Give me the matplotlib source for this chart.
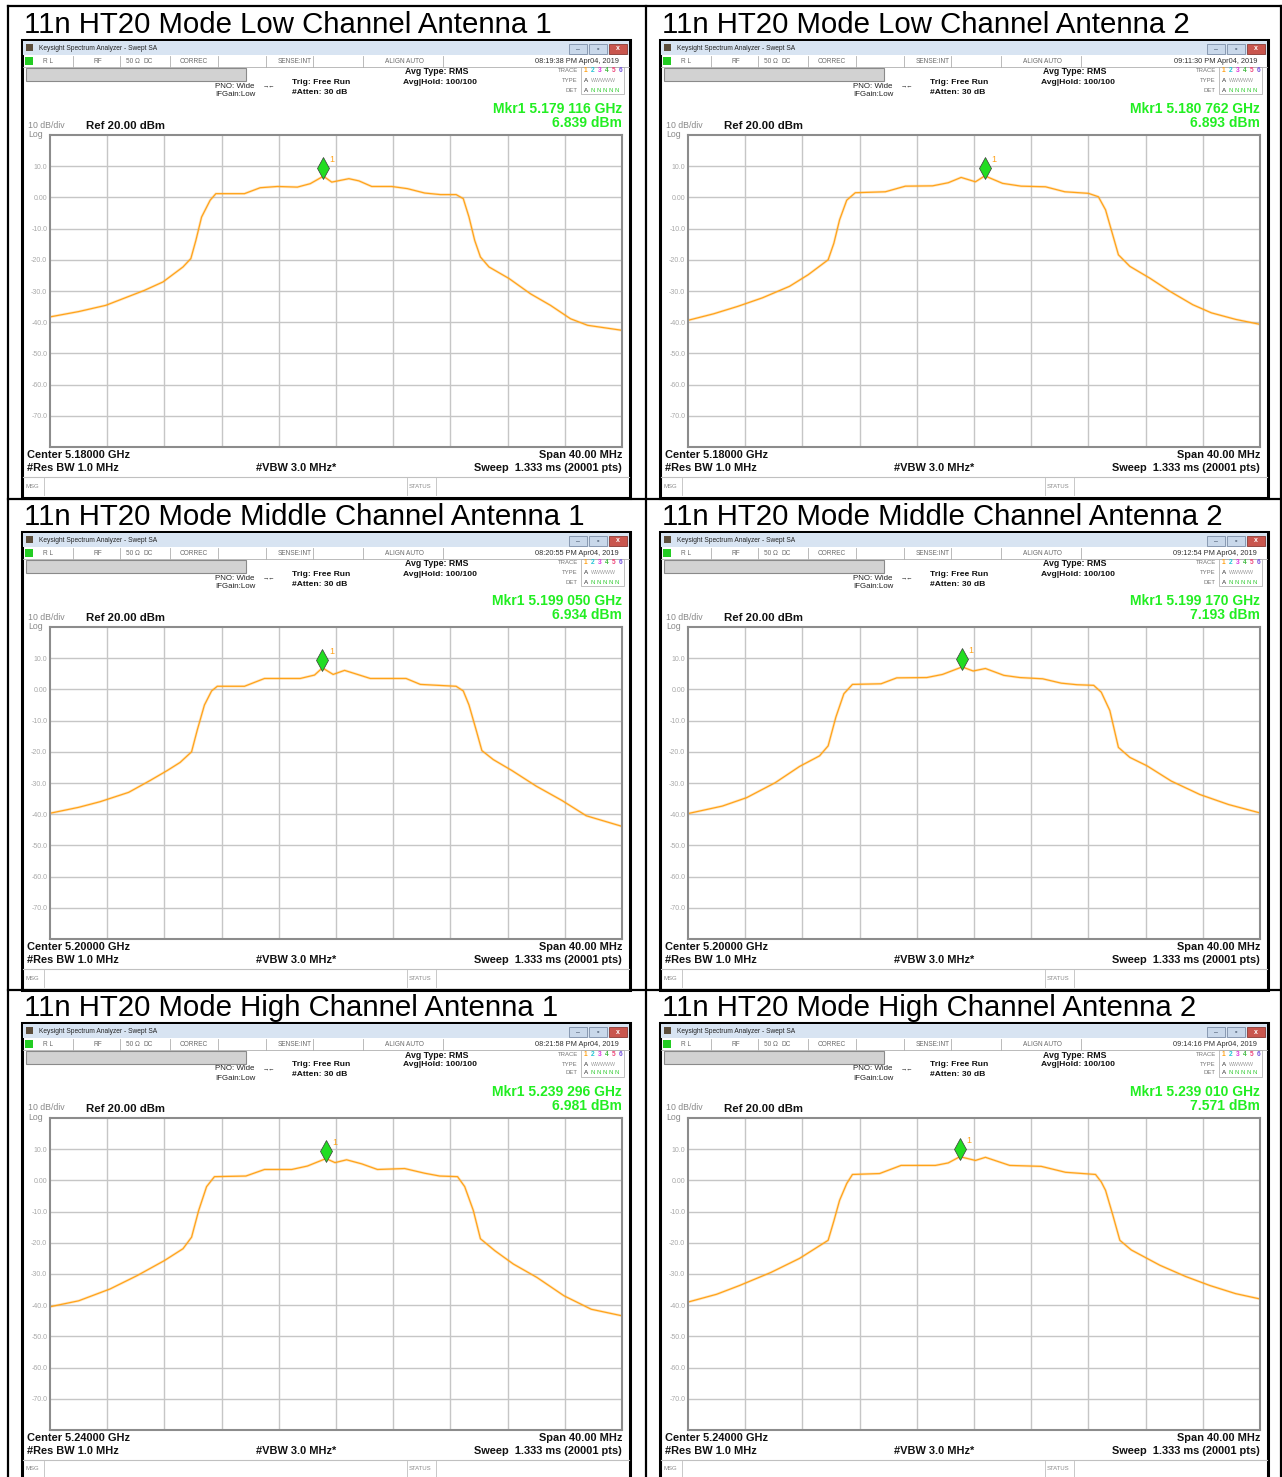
import matplotlib.pyplot as plt
from matplotlib.patches import Rectangle

plt.rcParams['font.family'] = ['Liberation Sans', 'DejaVu Sans']

W, H = 1282, 1477

# ----------------------------------------------------
# panel texts / analyzer readouts
# ----------------------------------------------------
panel_titles = [
    "11n HT20 Mode Low Channel Antenna 1", "11n HT20 Mode Low Channel Antenna 2",
    "11n HT20 Mode Middle Channel Antenna 1", "11n HT20 Mode Middle Channel Antenna 2",
    "11n HT20 Mode High Channel Antenna 1", "11n HT20 Mode High Channel Antenna 2",
]
center_ghz = [5.18, 5.18, 5.20, 5.20, 5.24, 5.24]
mkr_ghz = [5.179116, 5.180762, 5.199050, 5.199170, 5.239296, 5.239010]
mkr_dbm = [6.839, 6.893, 6.934, 7.193, 6.981, 7.571]
timestamps = ["08:19:38 PM Apr04, 2019", "09:11:30 PM Apr04, 2019",
              "08:20:55 PM Apr04, 2019", "09:12:54 PM Apr04, 2019",
              "08:21:58 PM Apr04, 2019", "09:14:16 PM Apr04, 2019"]
grid_db = [10, 0, -10, -20, -30, -40, -50, -60, -70]
grid_db_labels = ["10.0", "0.00", "-10.0", "-20.0", "-30.0", "-40.0", "-50.0", "-60.0", "-70.0"]

# ----------------------------------------------------
# traces (offset from center in MHz, level in dBm)
# ----------------------------------------------------
low_ant1_mhz = [-20, -18, -16.1, -13.4, -12.1, -10.7, -10.15, -9.8, -9.4, -8.8, -8.4, -6.4, -5.3, -4.1,
                -2.7, -1.8, -0.88, -0.3, 0.9, 1.6, 2.5, 3.9, 5.0, 6.2, 7.3, 8.4, 8.9, 9.3, 9.7, 10.1,
                10.7, 12.1, 13.6, 15.0, 16.4, 17.6, 20]
low_ant1_dbm = [-38.3, -36.6, -34.6, -29.8, -27.1, -22.3, -19.6, -13.8, -6.3, -0.9, 1.2, 1.2, 3.1, 3.5,
                3.3, 4.4, 6.8, 4.9, 6.0, 5.3, 3.5, 3.5, 2.8, 1.4, 0.9, 0.9, -0.4, -6.3, -13.8, -19.1,
                -22.3, -26.0, -30.9, -34.6, -38.9, -41.0, -42.6]

low_ant2_mhz = [-20, -18.2, -16.5, -14.8, -12.9, -11.6, -10.2, -9.8, -9.4, -8.9, -8.3, -6.2, -4.8, -2.9,
                -1.8, -0.9, 0.1, 0.76, 2.0, 3.3, 5.0, 6.35, 8.0, 8.7, 9.2, 9.8, 10.1, 10.9, 12.3, 13.7,
                15.3, 16.6, 18.3, 20]
low_ant2_dbm = [-39.4, -37.3, -34.9, -32.2, -28.5, -24.8, -20.0, -14.7, -7.2, -0.9, 1.5, 1.8, 3.6, 3.7,
                4.7, 6.4, 5.0, 6.9, 4.5, 3.6, 3.4, 1.8, 1.3, 0.2, -4.0, -13.6, -18.4, -22.1, -25.9, -30.1,
                -34.4, -37.0, -39.1, -40.7]

mid_ant1_mhz = [-20, -18, -16.5, -14.5, -13.0, -11.8, -10.9, -10.1, -9.7, -9.2, -8.7, -8.3, -6.4, -5.0,
                -2.5, -1.5, -0.95, -0.2, 0.6, 1.5, 2.4, 4.9, 5.9, 8.4, 8.9, 9.3, 9.8, 10.2, 11.0, 12.3,
                14.0, 15.8, 17.5, 20]
mid_ant1_dbm = [-39.7, -37.8, -36.0, -33.0, -29.2, -26.0, -23.4, -20.0, -13.0, -5.0, -0.5, 1.0, 1.0, 3.5,
                3.5, 4.6, 6.9, 4.8, 6.1, 4.8, 3.5, 3.5, 1.6, 1.0, -0.5, -5.0, -13.0, -19.6, -22.5, -26.0,
                -31.0, -35.6, -40.5, -43.9]

mid_ant2_mhz = [-20, -17.6, -15.9, -13.9, -12.2, -10.8, -10.2, -9.66, -9.1, -8.5, -6.5, -5.4, -3.3, -2.2,
                -0.83, -0.06, 0.8, 2.09, 3.2, 4.8, 6.1, 7.2, 8.37, 8.9, 9.5, 10.1, 10.9, 12.1, 13.8, 15.8,
                17.8, 20]
mid_ant2_dbm = [-39.8, -37.4, -34.7, -29.9, -24.7, -21.3, -18.1, -8.9, -1.4, 1.6, 1.8, 3.7, 3.8, 4.8,
                7.2, 5.9, 6.7, 4.5, 3.8, 3.4, 2.0, 1.5, 1.3, -0.9, -6.8, -18.6, -21.8, -24.5, -29.4, -33.7,
                -36.9, -39.6]

high_ant1_mhz = [-20, -18, -15.8, -13.9, -12.0, -10.7, -10.1, -9.6, -9.05, -8.5, -6.3, -5.0, -3.1, -2.0,
                 -0.7, -0.07, 0.74, 1.8, 2.9, 4.8, 6.2, 7.25, 8.5, 9.0, 9.6, 10.1, 11.1, 12.4, 14.05, 15.95,
                 17.85, 20]
high_ant1_dbm = [-40.5, -38.6, -34.8, -30.5, -25.7, -21.9, -18.2, -9.6, -2.0, 1.2, 1.4, 3.5, 3.5, 4.6,
                 7.0, 5.7, 6.6, 5.3, 3.5, 3.8, 2.3, 1.4, 1.2, -2.0, -9.6, -18.7, -22.5, -26.8, -31.1, -37.0,
                 -41.3, -43.4]

high_ant2_mhz = [-20, -18, -16.4, -14.2, -12.2, -10.2, -9.8, -9.4, -8.9, -8.5, -6.6, -5.1, -2.7, -1.8,
                 -0.99, 0.1, 0.8, 2.5, 4.7, 6.4, 8.5, 8.9, 9.2, 9.7, 10.2, 11.0, 13.0, 14.8, 16.5, 18.3, 20]
high_ant2_dbm = [-39.0, -36.5, -33.7, -29.5, -25.0, -19.2, -13.0, -6.4, -1.0, 1.9, 2.2, 4.8, 4.8, 5.6,
                 7.6, 6.4, 7.4, 4.8, 4.5, 2.6, 1.9, -0.5, -3.2, -11.0, -19.2, -22.3, -27.2, -30.8, -33.7,
                 -36.3, -38.0]

traces = [(low_ant1_mhz, low_ant1_dbm), (low_ant2_mhz, low_ant2_dbm),
          (mid_ant1_mhz, mid_ant1_dbm), (mid_ant2_mhz, mid_ant2_dbm),
          (high_ant1_mhz, high_ant1_dbm), (high_ant2_mhz, high_ant2_dbm)]

TRACE_C = '#ffa31a'
GRAY_TXT = '#8a8a8a'

fig = plt.figure(figsize=(W / 100, H / 100), dpi=100)
bg = fig.add_axes([0, 0, 1, 1])
bg.set_xlim(0, W)
bg.set_ylim(H, 0)
bg.axis('off')


def box(x, y, w, h, **kw):
    bg.add_patch(Rectangle((x, y), w, h, **kw))


def txt(x, y, s, size, **kw):
    kw.setdefault('va', 'center')
    bg.text(x, y, s, fontsize=size, **kw)


# --- table lines ---
for x in [8, 646, 1281]:
    bg.plot([x, x], [6, H], color='black', lw=1.6)
for y in [6, 499, 990]:
    bg.plot([8, 1281], [y, y], color='black', lw=1.6)


def draw_panel(i, ox, oy):
    # title above the screenshot
    txt(ox + 2, oy - 15, panel_titles[i], 21.2, color='black')

    # window frame
    box(ox, oy, 608, 458, fc='white', ec='black', lw=2.2)
    box(ox + 1, oy + 1, 606, 14, fc='#d8e4f2', ec='none')
    box(ox + 4, oy + 4, 7, 7, fc='#5c4e3c', ec='none')
    txt(ox + 17, oy + 8.5, "Keysight Spectrum Analyzer - Swept SA", 4.8, color='#222222')
    box(ox + 547, oy + 4, 18, 10, fc='#c9d8ea', ec='#7d8fa8', lw=0.6)
    box(ox + 567, oy + 4, 18, 10, fc='#c9d8ea', ec='#7d8fa8', lw=0.6)
    box(ox + 587, oy + 4, 18, 10, fc='#c9564e', ec='#8a3a34', lw=0.6)
    txt(ox + 556, oy + 9.5, "–", 5, color='#3a4a60', ha='center')
    txt(ox + 576, oy + 9, "▫", 5, color='#3a4a60', ha='center')
    txt(ox + 596, oy + 9, "x", 5, color='white', ha='center', weight='bold')

    # status row
    bg.plot([ox + 1, ox + 607], [oy + 27, oy + 27], color='#b0b0b0', lw=0.6)
    for sx in [51, 98, 148, 196, 244, 291, 341, 421]:
        bg.plot([ox + sx, ox + sx], [oy + 16, oy + 27], color='#b0b0b0', lw=0.6)
    box(ox + 3, oy + 17, 8, 8, fc='#22cc22', ec='none')
    for sx, s in [(21, "R L"), (72, "RF"), (104, "50 Ω"), (121, "DC"), (158, "CORREC"),
                  (256, "SENSE:INT"), (363, "ALIGN AUTO")]:
        txt(ox + sx, oy + 21.5, s, 4.7, color='#6a6a6a')
    txt(ox + 597, oy + 21.5, timestamps[i], 5.3, color='#333333', ha='right')

    # setup block
    box(ox + 4, oy + 28, 220, 13, fc='#d2d2d2', ec='#8a8a8a', lw=0.8)
    txt(ox + 193, oy + 46, "PNO: Wide", 5.7, color='#222222')
    txt(ox + 241, oy + 46, "→←", 4.5, color='#222222')
    txt(ox + 193, oy + 55, "IFGain:Low", 5.7, color='#222222')
    txt(ox + 270, oy + 42, "Trig: Free Run", 6.1, color='#111111', weight='bold')
    txt(ox + 270, oy + 52, "#Atten: 30 dB", 6.1, color='#111111', weight='bold')
    txt(ox + 383, oy + 32, "Avg Type: RMS", 6.3, color='#111111', weight='bold')
    txt(ox + 381, oy + 42, "Avg|Hold: 100/100", 6.1, color='#111111', weight='bold')

    # trace legend box
    txt(ox + 556, oy + 31, "TRACE", 4.3, color='#777777', ha='right')
    txt(ox + 556, oy + 41, "TYPE", 4.3, color='#777777', ha='right')
    txt(ox + 556, oy + 50, "DET", 4.3, color='#777777', ha='right')
    box(ox + 559, oy + 27, 43, 27, fc='white', ec='#b5b5b5', lw=0.6)
    tcols = ['#ffa31a', '#22c4d4', '#dd33dd', '#44bb44', '#ee4477', '#7755dd']
    for k, c in enumerate(tcols):
        txt(ox + 562 + k * 7, oy + 31, str(k + 1), 4.8, color=c, weight='bold')
    txt(ox + 562, oy + 41, "A", 4.5, color='#333333')
    txt(ox + 569, oy + 41, "WWWWW", 3.8, color='#9a9a9a')
    txt(ox + 562, oy + 50, "A", 4.5, color='#333333')
    txt(ox + 569, oy + 50, "N N N N N", 4.3, color='#33cc33')

    # marker readout
    s = f"{mkr_ghz[i]:.6f}"
    txt(ox + 600, oy + 69, f"Mkr1 {s[:5]} {s[5:]} GHz", 10, color='#22ee22', weight='bold', ha='right')
    txt(ox + 600, oy + 83, f"{mkr_dbm[i]:.3f} dBm", 10, color='#22ee22', weight='bold', ha='right')

    txt(ox + 6, oy + 85, "10 dB/div", 6.3, color=GRAY_TXT)
    txt(ox + 6, oy + 94.5, "Log", 6.3, color=GRAY_TXT)
    txt(ox + 64, oy + 86, "Ref 20.00 dBm", 8.2, color='#111111', weight='bold')

    # bottom readouts
    fs = 7.9
    txt(ox + 5, oy + 415, f"Center {center_ghz[i]:.5f} GHz", fs, color='#111111', weight='bold')
    txt(ox + 5, oy + 428, "#Res BW 1.0 MHz", fs, color='#111111', weight='bold')
    txt(ox + 234, oy + 428, "#VBW 3.0 MHz*", fs, color='#111111', weight='bold')
    txt(ox + 600, oy + 415, "Span 40.00 MHz", fs, color='#111111', weight='bold', ha='right')
    txt(ox + 600, oy + 428, "Sweep  1.333 ms (20001 pts)", fs, color='#111111', weight='bold', ha='right')

    # msg / status bar
    bg.plot([ox + 1, ox + 607], [oy + 437, oy + 437], color='#c0c0c0', lw=0.8)
    for sx in [22, 385, 414]:
        bg.plot([ox + sx, ox + sx], [oy + 438, oy + 455], color='#c8c8c8', lw=0.7)
    txt(ox + 4, oy + 446, "MSG", 4.3, color='#8a8a8a')
    txt(ox + 387, oy + 446, "STATUS", 4.3, color='#8a8a8a')

    # spectrum plot area
    px0, py0, pw, ph = ox + 28, oy + 95, 572, 312
    ax = fig.add_axes([px0 / W, 1 - (py0 + ph) / H, pw / W, ph / H])
    ax.set_xlim(-20, 20)
    ax.set_ylim(-80, 20)
    ax.set_xticks(range(-16, 17, 4))
    ax.set_xticklabels([])
    ax.set_yticks(grid_db)
    ax.set_yticklabels(grid_db_labels)
    ax.tick_params(length=0)
    ax.tick_params(axis='y', pad=2, labelsize=5, labelcolor='#a8a8a8')
    ax.grid(True, color='#c6c6c6', lw=1.0)
    ax.set_axisbelow(True)
    for sp in ax.spines.values():
        sp.set_color('#8c8c8c')
        sp.set_linewidth(1.5)

    f, lvl = traces[i]
    ax.plot(f, lvl, color=TRACE_C, lw=2.0, alpha=0.25, solid_joinstyle='round')
    ax.plot(f, lvl, color=TRACE_C, lw=0.9)

    mf = (mkr_ghz[i] - center_ghz[i]) * 1000
    ax.plot([mf], [mkr_dbm[i] + 2.5], marker='d', ms=11, mfc='#22dd22', mec='#3a3a3a', mew=0.5,
            ls='none', zorder=5)
    ax.text(mf + 0.45, mkr_dbm[i] + 5.3, "1", fontsize=6.5, color=TRACE_C, va='center')


origins = [(22, 40), (660, 40), (22, 532), (660, 532), (22, 1023), (660, 1023)]
for i, (ox, oy) in enumerate(origins):
    draw_panel(i, ox, oy)

plt.savefig('out.png', dpi=100)
